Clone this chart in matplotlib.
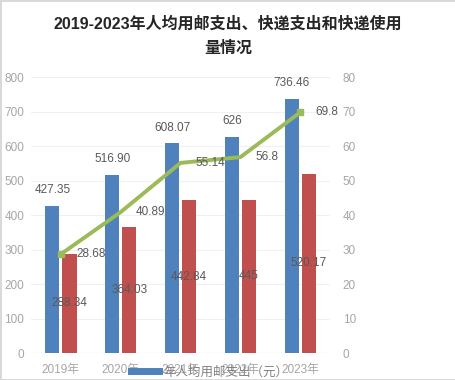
import numpy as np
import matplotlib
matplotlib.use('Agg')
import matplotlib.pyplot as plt
from matplotlib.lines import Line2D

plt.rcParams['font.family'] = ['Liberation Sans', 'Noto Sans CJK SC', 'DejaVu Sans']

# data
years = ['2019年', '2020年', '2021年', '2022年', '2023年']
postal_spend = [427.35, 516.90, 608.07, 626, 736.46]
express_spend = [288.34, 364.03, 442.84, 445, 520.17]
express_use = [28.68, 40.89, 55.14, 56.8, 69.8]
postal_labels = ['427.35', '516.90', '608.07', '626', '736.46']
express_labels = ['288.34', '364.03', '442.84', '445', '520.17']
use_labels = ['28.68', '40.89', '55.14', '56.8', '69.8']

blue = '#4F81BD'
red = '#C0504D'
green = '#9BBB59'
tick_gray = '#A6A6A6'
label_gray = '#595959'

fig = plt.figure(figsize=(4.56, 3.8), dpi=100)
fig.patch.set_edgecolor('#D9D9D9')
fig.patch.set_linewidth(1)
ax = fig.add_axes([0.068, 0.071, 0.656, 0.726])
ax2 = ax.twinx()

x = np.arange(len(years))
w = 0.235
off = 0.143

ax.bar(x - off, postal_spend, w, color=blue, zorder=2)
ax.bar(x + off, express_spend, w, color=red, zorder=2)

for xi, v, t in zip(x, postal_spend, postal_labels):
    ax.annotate(t, (xi - off, v), xytext=(0, 7), textcoords='offset points',
                ha='center', va='bottom', fontsize=8.5, color=label_gray)
for xi, v, t in zip(x, express_spend, express_labels):
    ax.text(xi + off, v / 2, t, ha='center', va='center', fontsize=8.5, color=label_gray, zorder=5)

ax.set_ylim(0, 800)
ax.set_yticks(range(0, 801, 100))
ax.set_xlim(-0.5, 4.5)
ax.set_xticks(x)
ax.set_xticklabels(years)
ax.grid(axis='y', color='#F0F0F0', linewidth=0.8, zorder=0)
ax.set_axisbelow(True)

ax2.plot(x, express_use, color=green, linewidth=2.8, marker='s', markersize=5,
         markevery=[0, 4], zorder=3)
for xi, v, t in zip(x, express_use, use_labels):
    ax2.annotate(t, (xi, v), xytext=(11, 0), textcoords='offset points',
                 ha='left', va='center', fontsize=8.5, color=label_gray)
ax2.set_ylim(0, 80)
ax2.set_yticks(range(0, 81, 10))

for a in (ax, ax2):
    for s in a.spines.values():
        s.set_visible(False)
    a.tick_params(length=0, labelsize=8.5, labelcolor=tick_gray)
ax.tick_params(axis='y', pad=5)
ax.tick_params(axis='x', pad=8)
ax2.tick_params(axis='y', pad=9)
ax.axhline(0, color='#E6E6E6', linewidth=0.8, zorder=1)

fig.text(0.5, 0.905, '2019-2023年人均用邮支出、快递支出和快递使用\n量情况',
         ha='center', va='center', fontsize=11.5, fontweight='bold', color='#262626',
         linespacing=1.75)

h = [Line2D([0], [0], color=blue, linewidth=5)]
leg = fig.legend(h, ['年人均用邮支出（元）'], loc='center', bbox_to_anchor=(0.46, 0.02),
                 frameon=False, fontsize=9, handlelength=2.2, handletextpad=0.4)
for t in leg.get_texts():
    t.set_color('#808080')

fig.savefig('out.png', dpi=100)
